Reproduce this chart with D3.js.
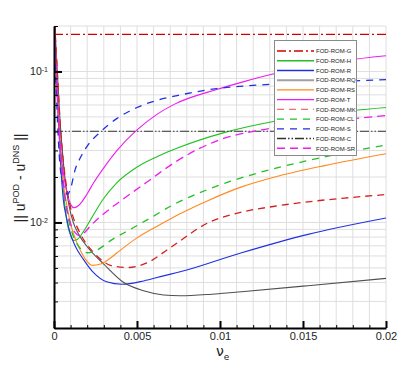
<!DOCTYPE html>
<html><head><meta charset="utf-8">
<script src="https://cdn.jsdelivr.net/npm/d3@7"></script>
<style>body{margin:0;background:#fff}svg{display:block;font-family:"Liberation Sans",Arial,sans-serif}</style>
</head><body><svg id="c" width="415" height="369"></svg>
<script>
const seriesNames = ["FOD-ROM-G","FOD-ROM-H","FOD-ROM-R","FOD-ROM-RQ","FOD-ROM-RS","FOD-ROM-T","FOD-ROM-MK","FOD-ROM-CL","FOD-ROM-S","FOD-ROM-C","FOD-ROM-SR"];
const xTicks = [0,0.005,0.01,0.015,0.02];
const xTickLabels = ["0","0.005","0.01","0.015","0.02"];
const yMajor = [0.01,0.1];
const yTickLabels = ["10","10"];
const yTickExps = ["-2","-1"];

const dataG = [[0,0.176],[0.02,0.176]];
const dataC = [[0,0.0402],[0.02,0.0402]];
const dataH = [[0,0.25],[0.00015,0.1],[0.0003,0.045],[0.00045,0.025],[0.0006,0.015],[0.0008,0.0098],[0.001,0.0082],[0.0012,0.0076],[0.0014,0.0077],[0.00177,0.0087],[0.00237,0.0112],[0.00297,0.0143],[0.00378,0.0183],[0.00498,0.0232],[0.0064,0.0279],[0.0074,0.031],[0.0103,0.0395],[0.0133,0.0468],[0.0163,0.0525],[0.02,0.0577]];
const dataR = [[0,0.25],[0.00015,0.1],[0.0003,0.04],[0.00045,0.02],[0.00056,0.0142],[0.00075,0.0108],[0.00096,0.0086],[0.0013,0.0069],[0.00177,0.0057],[0.00237,0.00467],[0.00317,0.00405],[0.0041,0.0039],[0.0054,0.0041],[0.0066,0.00443],[0.0076,0.00471],[0.0113,0.0063],[0.0153,0.00834],[0.02,0.0107]];
const dataRQ = [[0,0.25],[0.0002,0.1],[0.00035,0.05],[0.0005,0.03],[0.0007,0.018],[0.0009,0.013],[0.00116,0.010],[0.0015,0.0083],[0.002,0.0069],[0.003,0.0053],[0.0042,0.004],[0.0054,0.00353],[0.0066,0.00331],[0.0076,0.00327],[0.0095,0.00335],[0.0113,0.00348],[0.0153,0.00381],[0.02,0.00426]];
const dataRS = [[0,0.25],[0.00015,0.1],[0.0003,0.045],[0.00045,0.025],[0.0006,0.017],[0.0008,0.0125],[0.001,0.0098],[0.0013,0.0077],[0.00157,0.0066],[0.0019,0.0057],[0.0023,0.0052],[0.0028,0.0053],[0.0033,0.0057],[0.0038,0.0063],[0.005,0.0079],[0.0064,0.0097],[0.0073,0.011],[0.0093,0.014],[0.0113,0.0172],[0.0133,0.02],[0.0163,0.0238],[0.02,0.0285]];
const dataT = [[0,0.25],[0.00012,0.1],[0.00025,0.05],[0.0004,0.03],[0.0006,0.02],[0.0008,0.0155],[0.001,0.0132],[0.0012,0.0125],[0.0015,0.013],[0.002,0.0155],[0.00237,0.0182],[0.003,0.023],[0.0038,0.030],[0.005,0.041],[0.0062,0.052],[0.0073,0.061],[0.0098,0.076],[0.0115,0.086],[0.013,0.095],[0.015,0.106],[0.0175,0.118],[0.02,0.127]];
const dataMK = [[0,0.25],[0.0002,0.1],[0.00035,0.05],[0.0005,0.03],[0.0007,0.019],[0.001,0.0125],[0.0015,0.0088],[0.002,0.0071],[0.0024,0.0063],[0.0029,0.0056],[0.0034,0.0052],[0.0044,0.00503],[0.0056,0.0054],[0.007,0.0068],[0.0093,0.00996],[0.0113,0.0117],[0.0133,0.0128],[0.0153,0.0137],[0.0175,0.0145],[0.02,0.0153]];
const dataCL = [[0,0.25],[0.00015,0.1],[0.0003,0.045],[0.00045,0.025],[0.0006,0.016],[0.0008,0.0115],[0.001,0.0092],[0.0013,0.0075],[0.0016,0.0067],[0.002,0.0063],[0.0025,0.0065],[0.0035,0.0077],[0.0046,0.009],[0.0058,0.0107],[0.0073,0.0133],[0.0093,0.0166],[0.0123,0.0213],[0.0153,0.0257],[0.0175,0.029],[0.02,0.0326]];
const dataS = [[0,0.25],[0.0001,0.1],[0.0002,0.05],[0.00036,0.024],[0.0005,0.019],[0.0007,0.016],[0.0008,0.0153],[0.001,0.0168],[0.00127,0.0223],[0.0016,0.027],[0.002,0.032],[0.0028,0.0398],[0.0038,0.0489],[0.005,0.0577],[0.0062,0.0644],[0.0075,0.0695],[0.0098,0.077],[0.0125,0.0815],[0.016,0.085],[0.02,0.0882]];
const dataSR = [[0,0.25],[0.00015,0.1],[0.0003,0.045],[0.00045,0.025],[0.0006,0.017],[0.0008,0.012],[0.001,0.0098],[0.0013,0.0085],[0.0015,0.0082],[0.0018,0.0085],[0.0022,0.0095],[0.0032,0.0119],[0.0044,0.0149],[0.0058,0.0192],[0.0073,0.0251],[0.0099,0.035],[0.0125,0.041],[0.015,0.045],[0.0175,0.048],[0.02,0.051]];
const seriesData = [dataG,dataH,dataR,dataRQ,dataRS,dataT,dataMK,dataCL,dataS,dataC,dataSR];

const styles = [
  {c:"#d40000",d:"9,3,2,3",w:1.2},
  {c:"#22c022",d:null,w:1.1},
  {c:"#2030e0",d:null,w:1.1},
  {c:"#505050",d:null,w:1.1,lc:"#a0a0a0",lw:2},
  {c:"#ff8a1c",d:null,w:1.1},
  {c:"#ee1cee",d:null,w:1.1},
  {c:"#d42020",d:"7,5",w:1.3,lc:"#f07070"},
  {c:"#22c022",d:"7,6",w:1.3},
  {c:"#2030e0",d:"7,6",w:1.3},
  {c:"#333333",d:"9,2,1.5,2,1.5,2",w:1.1},
  {c:"#ee1cee",d:"8,5",w:1.3}
];

const svg = d3.select("#c");
const L=54,R=386,T=26,B=328;
const x = d3.scaleLinear().domain([0,0.02]).range([L,R]);
const y = d3.scaleLog().domain([0.002,0.2]).range([B,T]);

// grid
const yMinor = [];
[0.001,0.01,0.1].forEach(d=>{for(let k=1;k<=9;k++){const v=d*k; if(v>=0.002-1e-12 && v<=0.2+1e-12) yMinor.push(v);}});
const xMinor = d3.range(0,21).map(i=>i*0.001);
const g = svg.append("g");
g.selectAll(".vg").data(xMinor.slice(1)).join("line").attr("x1",d=>x(d)).attr("x2",d=>x(d)).attr("y1",T).attr("y2",B).attr("stroke","#dedede").attr("stroke-width",1);
g.selectAll(".hg").data(yMinor.filter(v=>v>0.0021)).join("line").attr("x1",L).attr("x2",R).attr("y1",d=>y(d)).attr("y2",d=>y(d)).attr("stroke","#dedede").attr("stroke-width",1);

// curves
svg.append("clipPath").attr("id","clip").append("rect").attr("x",L).attr("y",T).attr("width",R-L).attr("height",B-T);
const line = d3.line().x(d=>x(d[0])).y(d=>y(d[1])).curve(d3.curveMonotoneX);
const cg = svg.append("g").attr("clip-path","url(#clip)");
seriesData.forEach((data,i)=>{
  const s=styles[i];
  cg.append("path").attr("d",line(data)).attr("fill","none").attr("stroke",s.c).attr("stroke-width",s.w).attr("stroke-dasharray",s.d);
});

// axes
const xAxis = d3.axisBottom(x).tickValues(xTicks).tickSizeInner(-7).tickSizeOuter(0).tickPadding(4).tickFormat((d,i)=>xTickLabels[i]);
const xa = svg.append("g").attr("transform",`translate(0,${B})`).call(xAxis);
xa.select(".domain").attr("stroke","#000").attr("stroke-width",2);
xa.selectAll(".tick line").attr("stroke","#000").attr("stroke-width",2);
xa.selectAll(".tick text").attr("font-size",11).attr("fill","#222").attr("font-family","Liberation Sans, Arial, sans-serif");
const xMinorAxis = d3.axisBottom(x).tickValues(xMinor.filter((d,i)=>i%5!==0)).tickSizeInner(-3).tickSizeOuter(0).tickFormat("");
const xm = svg.append("g").attr("transform",`translate(0,${B})`).call(xMinorAxis);
xm.select(".domain").remove();
xm.selectAll(".tick line").attr("stroke","#000").attr("stroke-width",1);

const yMinorAxis = d3.axisLeft(y).tickValues(yMinor.filter(v=>Math.abs(v-0.01)>1e-9 && Math.abs(v-0.1)>1e-9)).tickSizeInner(-4).tickSizeOuter(0).tickFormat("");
const ym = svg.append("g").attr("transform",`translate(${L},0)`).call(yMinorAxis);
ym.select(".domain").remove();
ym.selectAll(".tick line").attr("stroke","#000").attr("stroke-width",1);
const yAxis = d3.axisLeft(y).tickValues(yMajor).tickSizeInner(-8).tickSizeOuter(0).tickPadding(6).tickFormat((d,i)=>yTickLabels[i]);
const ya = svg.append("g").attr("transform",`translate(${L},0)`).call(yAxis);
ya.select(".domain").attr("stroke","#000").attr("stroke-width",2);
ya.selectAll(".tick line").attr("stroke","#000").attr("stroke-width",2);
ya.selectAll(".tick text").attr("font-size",10.5).attr("fill","#222").attr("font-family","Liberation Sans, Arial, sans-serif")
  .each(function(d,i){d3.select(this).append("tspan").attr("font-size",7).attr("dy","-0.45em").text(yTickExps[i]);});

// axis titles
svg.append("text").attr("x",216).attr("y",356).attr("font-size",14).attr("fill","#222").attr("font-family","DejaVu Sans, sans-serif")
  .text("ν").append("tspan").attr("font-size",9).attr("dy",4).text("e");
const yt = svg.append("text").attr("transform","translate(25,178) rotate(-90)").attr("text-anchor","middle").attr("font-size",14).attr("fill","#222").attr("font-family","Liberation Sans, Arial, sans-serif");
yt.append("tspan").text("|| u");
yt.append("tspan").attr("font-size",9).attr("dy",-6).text("POD");
yt.append("tspan").attr("dy",6).text(" - u");
yt.append("tspan").attr("font-size",9).attr("dy",-6).text("DNS");
yt.append("tspan").attr("dy",6).text(" ||");

// legend
const lg = svg.append("g");
lg.append("rect").attr("x",274.5).attr("y",40.5).attr("width",82).attr("height",115).attr("fill","#fff").attr("stroke","#8a8a8a").attr("stroke-width",1);
seriesNames.forEach((n,i)=>{
  const s=styles[i]; const yy=51+i*9.73;
  lg.append("line").attr("x1",277).attr("x2",314).attr("y1",yy).attr("y2",yy).attr("stroke",s.lc||s.c).attr("stroke-width",s.lw||1.4).attr("stroke-dasharray",s.d);
  lg.append("text").attr("x",316).attr("y",yy+2.2).attr("font-size",6).attr("fill","#222").attr("font-family","Liberation Sans, Arial, sans-serif").text(n);
});
</script></body></html>
